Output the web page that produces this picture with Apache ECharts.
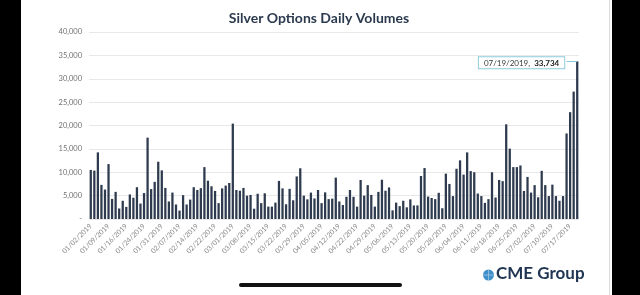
<!DOCTYPE html>
<html>
<head>
<meta charset="utf-8">
<script src="https://cdn.jsdelivr.net/npm/echarts@6.0.0/dist/echarts.min.js"></script>
<style>
  html, body { margin: 0; padding: 0; background: #000; }
  #chart { width: 640px; height: 295px; }
</style>
</head>
<body>
<div id="chart"></div>
<script>
// trading days, Jan 2 - Jul 19 2019
const janDays = ['01/02','01/03','01/04','01/07','01/08','01/09','01/10','01/11','01/14','01/15','01/16','01/17','01/18','01/22','01/23','01/24','01/25','01/28','01/29','01/30','01/31'];
const febDays = ['02/01','02/04','02/05','02/06','02/07','02/08','02/11','02/12','02/13','02/14','02/15','02/19','02/20','02/21','02/22','02/25','02/26','02/27','02/28'];
const marDays = ['03/01','03/04','03/05','03/06','03/07','03/08','03/11','03/12','03/13','03/14','03/15','03/18','03/19','03/20','03/21','03/22','03/25','03/26','03/27','03/28','03/29'];
const aprDays = ['04/01','04/02','04/03','04/04','04/05','04/08','04/09','04/10','04/11','04/12','04/15','04/16','04/17','04/18','04/22','04/23','04/24','04/25','04/26','04/29','04/30'];
const mayDays = ['05/01','05/02','05/03','05/06','05/07','05/08','05/09','05/10','05/13','05/14','05/15','05/16','05/17','05/20','05/21','05/22','05/23','05/24','05/28','05/29','05/30','05/31'];
const junDays = ['06/03','06/04','06/05','06/06','06/07','06/10','06/11','06/12','06/13','06/14','06/17','06/18','06/19','06/20','06/21','06/24','06/25','06/26','06/27','06/28'];
const julDays = ['07/01','07/02','07/03','07/05','07/08','07/09','07/10','07/11','07/12','07/15','07/16','07/17','07/18','07/19'];

// daily volumes (contracts)
const janVol = [10500,10350,14250,7300,6300,11750,4300,5800,2250,3900,2600,5250,4550,6800,3300,5550,17400,6400,7950,12250,10400];
const febVol = [6650,3750,5650,3100,1800,5100,3100,4150,6800,6200,6600,11100,8200,7000,6000,3400,6550,7150,7700];
const marVol = [20400,6200,6050,6650,5000,5150,2200,5400,3400,5500,2650,2650,3500,8150,6550,3150,6450,4000,9100,10850,5000];
const aprVol = [4200,5650,4400,6200,3400,5700,4250,4350,8850,3750,3000,4750,6200,4750,2650,8350,5000,7250,5150,2650,5800];
const mayVol = [8400,6050,6750,1850,3500,2750,3900,2500,4200,2900,2900,9200,10900,4800,4500,4250,5600,2300,9700,7500,4900,10750];
const junVol = [12550,9500,14250,10250,10000,5450,4900,3450,4250,10000,4600,8350,8100,20250,15050,11100,11100,11450,6000,9000];
const julVol = [5650,7250,4650,10300,7250,4900,7350,4900,3900,4900,18300,22850,27250,33734];

const dates = [].concat(janDays, febDays, marDays, aprDays, mayDays, junDays, julDays).map(d => d + '/2019');
const volumes = [].concat(janVol, febVol, marVol, aprVol, mayVol, junVol, julVol);

const lastIdx = volumes.length - 1;
const lastDate = dates[lastIdx];
const lastVol = volumes[lastIdx];

const fmt = v => v.toLocaleString('en-US');

const chart = echarts.init(document.getElementById('chart'));

const option = {
  backgroundColor: '#000',
  animation: false,
  textStyle: { fontFamily: 'Lato, "Noto Sans", sans-serif' },
  title: {
    text: 'Silver Options Daily Volumes',
    left: 314,
    top: 6,
    textAlign: 'center',
    textStyle: { color: '#2b3a4e', fontSize: 14, fontWeight: 'bold', fontFamily: 'Lato, sans-serif' },
  },
  graphic: [
    { type: 'rect', z: -10, shape: { x: 21, y: 0, width: 591, height: 295 }, style: { fill: '#fff' } },
    { type: 'rect', z: -9, shape: { x: 609, y: 0, width: 1, height: 295 }, style: { fill: '#dcdcdc' } },
    // home indicator
    { type: 'rect', shape: { x: 239, y: 283, width: 163, height: 4, r: 2 }, style: { fill: '#111' } },
    // logo
    { type: 'circle', shape: { cx: 488.5, cy: 275, r: 5.5 }, style: { fill: '#3f8fc9' } },
    { type: 'line', shape: { x1: 483, y1: 275, x2: 494, y2: 275 }, style: { stroke: '#bcdaf0', lineWidth: 0.6 } },
    { type: 'line', shape: { x1: 488.5, y1: 269.5, x2: 488.5, y2: 280.5 }, style: { stroke: '#bcdaf0', lineWidth: 0.6 } },
    {
      type: 'text', left: 496, top: 265,
      style: { text: 'CME Group', fill: '#1f3552', fontSize: 17, fontWeight: 'bold', fontFamily: 'Lato, sans-serif' },
    },
  ],
  grid: { left: 89, right: 61, top: 32, bottom: 76 },
  xAxis: {
    type: 'category',
    data: dates,
    axisLine: { show: false },
    axisTick: { show: false },
    axisLabel: {
      interval: 4,
      rotate: 45,
      fontSize: 7,
      color: '#8a8a8a',
      margin: 6,
    },
  },
  yAxis: {
    type: 'value',
    min: 0,
    max: 40000,
    interval: 5000,
    axisLine: { show: false },
    axisTick: { show: false },
    splitLine: { lineStyle: { color: '#e8e8e8', width: 1 } },
    axisLabel: {
      fontSize: 7.5,
      color: '#707070',
      margin: 7,
      formatter: v => (v === 0 ? '-' : fmt(v)),
    },
  },
  series: [
    {
      type: 'bar',
      data: volumes,
      barCategoryGap: '36%',
      itemStyle: { color: '#2e3b4e' },
      markLine: {
        silent: true,
        symbol: 'none',
        label: { show: false },
        lineStyle: { color: '#8ccbdb', width: 1, type: 'solid' },
        data: [[{ coord: [dates[lastIdx - 3], lastVol] }, { coord: [lastDate, lastVol] }]],
      },
      markPoint: {
        silent: true,
        symbol: 'rect',
        symbolSize: [0, 0],
        data: [{ coord: [lastDate, lastVol] }],
        label: {
          show: true,
          position: 'left',
          distance: 13,
          offset: [0, 1.5],
          formatter: lastDate + ',  {b|' + fmt(lastVol) + '}',
          color: '#3a3a3a',
          fontSize: 8,
          backgroundColor: '#fff',
          borderColor: '#8ccbdb',
          borderWidth: 1,
          padding: [2, 5, 1, 5],
          rich: { b: { fontWeight: 'bold', fontSize: 8, color: '#222' } },
        },
      },
    },
  ],
};

chart.setOption(option);
</script>
</body>
</html>
